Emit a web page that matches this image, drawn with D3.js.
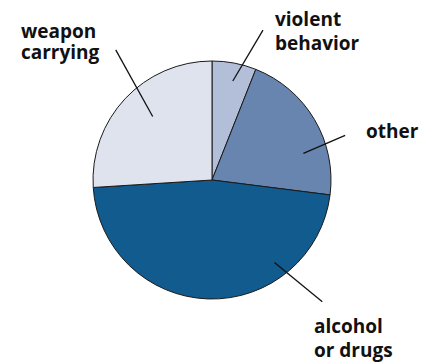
<!DOCTYPE html>
<html>
<head>
<meta charset="utf-8">
<script src="https://cdn.jsdelivr.net/npm/d3@7"></script>
<style>
  body { margin: 0; background: #fff; }
  text { font-family: "Open Sans", sans-serif; font-weight: 700; font-size: 19px; fill: #111; }
</style>
</head>
<body>
<svg id="chart"></svg>
<script>
// slices clockwise from 12 o'clock
const categories = ["violent behavior", "other", "alcohol or drugs", "weapon carrying"];
const values = [6, 21, 47, 26];
const colors = ["#b3bfd9", "#6785af", "#115b8e", "#dfe3ee"];
const labelLines = [["violent", "behavior"], ["other"], ["alcohol", "or drugs"], ["weapon", "carrying"]];

const width = 435, height = 364;
const cx = 212, cy = 180, radius = 119;

const svg = d3.select("#chart")
    .attr("width", width)
    .attr("height", height);

const g = svg.append("g")
    .attr("transform", `translate(${cx},${cy})`);

const pie = d3.pie().sort(null).value(d => d);
const arcs = pie(values);

const arc = d3.arc().innerRadius(0).outerRadius(radius);

g.selectAll("path")
    .data(arcs)
    .enter()
    .append("path")
    .attr("d", arc)
    .attr("fill", (d, i) => colors[i])
    .attr("stroke", "#1a1a1a")
    .attr("stroke-width", 1);

// leader lines: [fraction across slice, radius factor] for inner and outer end
const leaderIn = [[0.55, 0.85], [0.69, 0.80], [0.27, 0.87], [0.54, 0.73]];
const leaderOut = [[0.87, 1.33], [0.66, 1.18], [0.24, 1.38], [0.61, 1.36]];

function leaderPoint(d, p) {
    const a = d.startAngle + p[0] * (d.endAngle - d.startAngle);
    return d3.pointRadial(a, p[1] * radius);
}

g.selectAll("line")
    .data(arcs)
    .enter()
    .append("line")
    .attr("x1", (d, i) => leaderPoint(d, leaderIn[i])[0])
    .attr("y1", (d, i) => leaderPoint(d, leaderIn[i])[1])
    .attr("x2", (d, i) => leaderPoint(d, leaderOut[i])[0])
    .attr("y2", (d, i) => leaderPoint(d, leaderOut[i])[1])
    .attr("stroke", "#111")
    .attr("stroke-width", 1.3);

// label anchors (page coordinates of first baseline)
const labelPos = [[275, 26], [366, 138], [314, 333], [21, 38]];
const lineGap = [24, 0, 24, 21];

labelLines.forEach((lines, i) => {
    const t = svg.append("text")
        .attr("x", labelPos[i][0])
        .attr("y", labelPos[i][1]);
    lines.forEach((s, j) => {
        t.append("tspan")
            .attr("x", labelPos[i][0])
            .attr("dy", j === 0 ? 0 : lineGap[i])
            .text(s);
    });
});
</script>
</body>
</html>
